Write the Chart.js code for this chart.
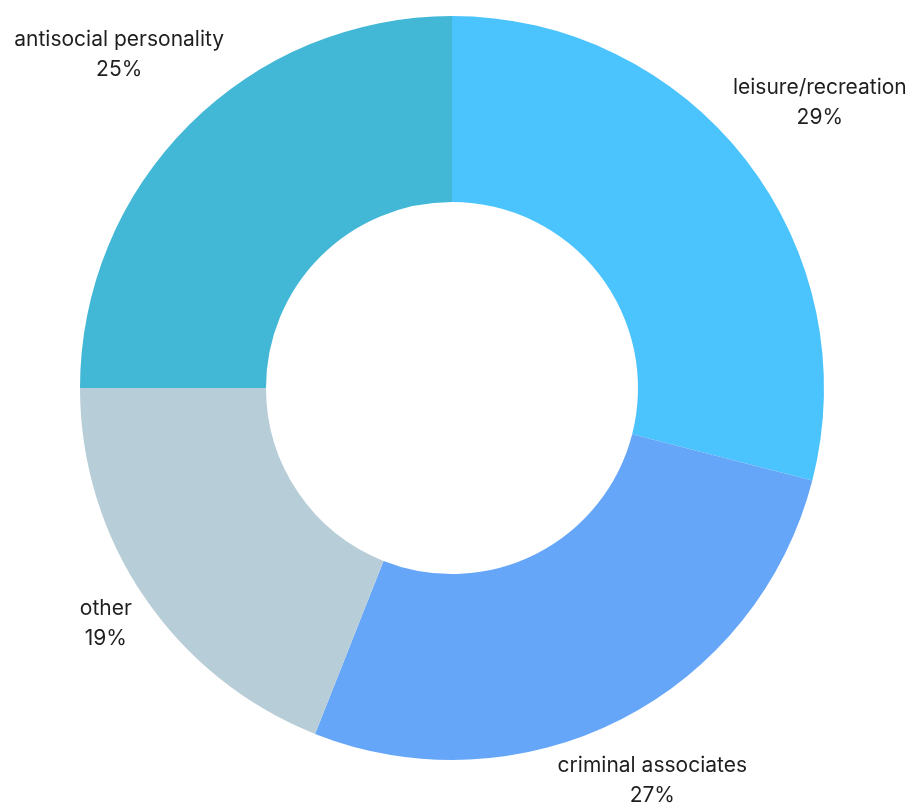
<!DOCTYPE html>
<html>
<head>
<meta charset="utf-8">
<script src="https://cdn.jsdelivr.net/npm/chart.js@4.4.0/dist/chart.umd.min.js"></script>
<style>
  html, body { margin: 0; padding: 0; background: #fff; }
  #wrap { width: 911px; height: 803px; }
</style>
</head>
<body>
<div id="wrap"><canvas id="donut"></canvas></div>
<script>
// data
const categories = ["leisure/recreation", "criminal associates", "other", "antisocial personality"];
const shares = [29, 27, 19, 25];
const sliceColors = ["#4bc3fd", "#66a6f9", "#b7cdd7", "#42b7d6"];

const LINE_GAP = 30;

// distance from the doughnut centre to a box centred at (bx, by)
function boxDistance(bx, by, hw, hh) {
  const dx = Math.max(0, Math.abs(bx) - hw);
  const dy = Math.max(0, Math.abs(by) - hh);
  return Math.sqrt(dx * dx + dy * dy);
}

// draws "name" + "NN%" outside each slice, pushed out along the slice's mid angle
// until the label box clears the ring
const outerLabels = {
  id: "outerLabels",
  afterDraw(chart) {
    const ctx = chart.ctx;
    const meta = chart.getDatasetMeta(0);
    ctx.save();
    ctx.font = "21px Inter, 'Noto Sans', sans-serif";
    ctx.fillStyle = "#1f1f1f";
    ctx.textAlign = "center";
    ctx.textBaseline = "middle";
    meta.data.forEach((arc, i) => {
      const p = arc.getProps(["x", "y", "startAngle", "endAngle", "outerRadius"], true);
      const mid = (p.startAngle + p.endAngle) / 2;
      const c = Math.cos(mid), s = Math.sin(mid);
      const pct = shares[i] + "%";
      const hw = Math.max(ctx.measureText(categories[i]).width, ctx.measureText(pct).width) / 2;
      const hh = (LINE_GAP + 20) / 2;
      const clear = p.outerRadius + 11;
      let lo = 0, hi = p.outerRadius * 3;
      for (let k = 0; k < 40; k++) {
        const d = (lo + hi) / 2;
        if (boxDistance(d * c, d * s, hw, hh) < clear) lo = d; else hi = d;
      }
      const x = p.x + c * hi;
      const y = p.y + s * hi;
      ctx.fillText(categories[i], x, y - LINE_GAP / 2);
      ctx.fillText(pct, x, y + LINE_GAP / 2);
    });
    ctx.restore();
  },
};

new Chart(document.getElementById("donut").getContext("2d"), {
  type: "doughnut",
  data: {
    labels: categories,
    datasets: [
      {
        data: shares,
        backgroundColor: sliceColors,
        borderWidth: 0,
      },
    ],
  },
  options: {
    responsive: true,
    maintainAspectRatio: false,
    animation: false,
    cutout: "50%",
    layout: { padding: { top: 16, bottom: 43, left: 80, right: 87 } },
    plugins: { legend: { display: false }, tooltip: { enabled: false } },
  },
  plugins: [outerLabels],
});
</script>
</body>
</html>
